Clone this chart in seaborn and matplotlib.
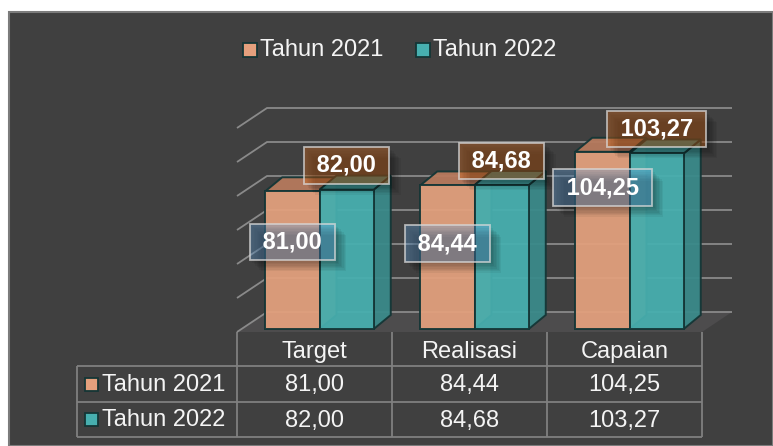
import numpy as np
import pandas as pd
import matplotlib
matplotlib.use("Agg")
import matplotlib.pyplot as plt
import matplotlib.transforms as mtransforms
import matplotlib.patheffects as pe
from matplotlib.patches import Polygon, Rectangle
import seaborn as sns

# ---- data ----
kategori = ["Target", "Realisasi", "Capaian"]
tahun = ["Tahun 2021", "Tahun 2022"]
nilai_2021 = [81.00, 84.44, 104.25]
nilai_2022 = [82.00, 84.68, 103.27]
y_ticks = [0, 20, 40, 60, 80, 100, 120]

# ---- layout (pixels of a 773x446 canvas, origin top-left) ----
W, H = 773, 446
PLOT_L, PLOT_R = 237, 702          # front edge of the floor
PLOT_BASE, PLOT_TOP = 332, 128     # y of value 0 and value 120 on the front plane
WALL_DX, WALL_DY = 30, 20          # depth of the back wall
BAR_DX, BAR_DY = 17, 14            # depth of each bar
BAR_SHIFT = (5, 3)                 # bars stand slightly behind the front edge
label_y_2021 = [53, 52, 85]        # label centres (value units) for 2021
label_gap_2022 = 16                # 2022 labels sit above the bar top

BG = "#404040"
GRID = "#8a8a8a"
ORANGE, ORANGE_TOP, ORANGE_SIDE = "#E3A07D", "#B67A5D", "#B07558"
TEAL, TEAL_TOP, TEAL_SIDE = "#47AFAF", "#3D9797", "#3A8A8A"
EDGE = "#143636"
TXT = "#F4F4F4"
FONT = "Liberation Sans"
FS = 17

sns.set_theme(style="white")
plt.rcParams["font.family"] = [FONT, "DejaVu Sans"]

fig = plt.figure(figsize=(W / 100, H / 100), dpi=100, facecolor="white")

# full-canvas helper axes in pixel coordinates
bg = fig.add_axes([0, 0, 1, 1], zorder=0)
bg.set_xlim(0, W)
bg.set_ylim(H, 0)
bg.set_axis_off()
bg.add_patch(Rectangle((9, 12), W - 9, H - 12, facecolor=BG,
                       edgecolor="#7c7c7c", linewidth=1.5))

# plot axes = front plane of the 3-D box
ax = fig.add_axes([PLOT_L / W, (H - PLOT_BASE) / H,
                   (PLOT_R - PLOT_L) / W, (PLOT_BASE - PLOT_TOP) / H], zorder=1)
ax.patch.set_visible(False)

df = pd.DataFrame({
    "Kategori": kategori * 2,
    "Tahun": [tahun[0]] * len(kategori) + [tahun[1]] * len(kategori),
    "Nilai": nilai_2021 + nilai_2022,
})
sns.barplot(data=df, x="Kategori", y="Nilai", hue="Tahun", hue_order=tahun,
            palette=[ORANGE, TEAL], saturation=1, width=0.7, errorbar=None,
            edgecolor=EDGE, linewidth=1.4, legend=False, ax=ax, zorder=4)
ax.set_xlim(-0.5, len(kategori) - 0.5)
ax.set_ylim(y_ticks[0], y_ticks[-1])
ax.set_axis_off()

# pixel -> data scale factors
sx = len(kategori) / (PLOT_R - PLOT_L)
sy = (y_ticks[-1] - y_ticks[0]) / (PLOT_BASE - PLOT_TOP)
wdx, wdy = WALL_DX * sx, WALL_DY * sy
x0, x1 = -0.5, len(kategori) - 0.5

# floor
ax.add_patch(Polygon([(x0, 0), (x1, 0), (x1 + wdx, wdy), (x0 + wdx, wdy)],
                     closed=True, facecolor="#4d4c4d", edgecolor="none",
                     zorder=0.5, clip_on=False))
# back-wall and side-wall gridlines
for v in y_ticks:
    ax.plot([x0, x0 + wdx, x1 + wdx], [v, v + wdy, v + wdy], color=GRID,
            lw=1.3, zorder=1, clip_on=False, solid_capstyle="butt")

# 3-D faces of each bar
bdx, bdy = BAR_DX * sx, BAR_DY * sy
shx, shy = BAR_SHIFT[0] * sx, BAR_SHIFT[1] * sy
faces = [(ORANGE_TOP, ORANGE_SIDE), (TEAL_TOP, TEAL_SIDE)]
bars = [list(c.patches) for c in ax.containers]
for ci in range(len(kategori)):
    for hi, cont in enumerate(bars):
        p = cont[ci]
        p.set_x(p.get_x() + shx)
        p.set_y(p.get_y() + shy)
        p.set_alpha(0.94)
        p.set_clip_on(False)
        x, y, w, h = p.get_x(), p.get_y(), p.get_width(), p.get_height()
        top_c, side_c = faces[hi]
        ax.add_patch(Polygon([(x + w, y), (x + w + bdx, y + bdy),
                              (x + w + bdx, y + h + bdy), (x + w, y + h)],
                             closed=True, facecolor=side_c, edgecolor=EDGE,
                             lw=1.4, alpha=0.95, zorder=3, clip_on=False))
        ax.add_patch(Polygon([(x, y + h), (x + w, y + h),
                              (x + w + bdx, y + h + bdy), (x + bdx, y + h + bdy)],
                             closed=True, facecolor=top_c, edgecolor=EDGE,
                             lw=1.4, alpha=0.95, zorder=3, clip_on=False))

# data labels
def fmt(v):
    return f"{v:.2f}".replace(".", ",")

box_2021 = dict(boxstyle="square,pad=0.28", facecolor=(0.36, 0.61, 0.84, 0.36),
                edgecolor=(0.85, 0.85, 0.85, 0.75), linewidth=1.3)
box_2022 = dict(boxstyle="square,pad=0.28", facecolor=(0.76, 0.38, 0.10, 0.42),
                edgecolor=(0.85, 0.85, 0.85, 0.75), linewidth=1.3)
shadow = [pe.SimplePatchShadow(offset=(d, -d), shadow_rgbFace="black", alpha=0.05)
          for d in range(2, 9)] + [pe.Normal()]

def label(x, y, v, box):
    t = ax.text(x, y, f" {fmt(v)} ", ha="center", va="center", color="white",
                fontsize=FS, fontweight="bold", bbox=box, zorder=6, clip_on=False)
    t.get_bbox_patch().set_path_effects(shadow)

for i in range(len(kategori)):
    p1, p2 = bars[0][i], bars[1][i]
    label(p1.get_x() + p1.get_width() / 2, label_y_2021[i], nilai_2021[i], box_2021)
    label(p2.get_x() + p2.get_width() / 2, nilai_2022[i] + label_gap_2022,
          nilai_2022[i], box_2022)

# data table below the plot
TBL_TOP, ROW1, ROW2, TBL_BOT = 332, 366, 402, 437
TBL_LEFT = 77
tline = dict(color="#808080", lw=1.3, solid_capstyle="butt")
for xb in [PLOT_L + k * (PLOT_R - PLOT_L) / len(kategori) for k in range(len(kategori) + 1)]:
    bg.plot([xb, xb], [TBL_TOP, TBL_BOT], **tline)
bg.plot([TBL_LEFT, TBL_LEFT], [ROW1, TBL_BOT], **tline)
for yb in [ROW1, ROW2, TBL_BOT]:
    bg.plot([TBL_LEFT, PLOT_R], [yb, yb], **tline)

col_tr = mtransforms.blended_transform_factory(ax.transData, bg.transData)
rows = [(ROW1 + ROW2) / 2, (ROW2 + TBL_BOT) / 2]
for i, k in enumerate(kategori):
    ax.text(i, 352, k, transform=col_tr, ha="center", va="center",
            color=TXT, fontsize=FS, clip_on=False)
    for r, vals in enumerate([nilai_2021, nilai_2022]):
        ax.text(i, rows[r] + 1, fmt(vals[i]), transform=col_tr, ha="center",
                va="center", color=TXT, fontsize=FS, clip_on=False)

for r, (name, col) in enumerate(zip(tahun, [ORANGE, TEAL])):
    bg.add_patch(Rectangle((85, rows[r] - 6.5), 13, 13, facecolor=col,
                           edgecolor=EDGE, lw=1.3))
    bg.text(102, rows[r] + 1, name, ha="left", va="center", color=TXT,
            fontsize=FS)

# legend
for (mx, name, col) in [(243, tahun[0], ORANGE), (416, tahun[1], TEAL)]:
    bg.add_patch(Rectangle((mx, 43), 14, 14, facecolor=col,
                           edgecolor=EDGE, lw=1.3))
    bg.text(mx + 17, 50.5, name, ha="left", va="center", color=TXT,
            fontsize=FS)

fig.savefig("out.png", dpi=100, facecolor=fig.get_facecolor())
